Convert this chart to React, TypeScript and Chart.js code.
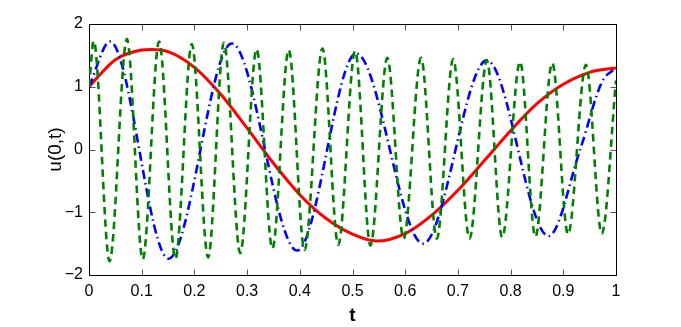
import React, { useEffect, useRef } from "react";
import { Chart, registerables } from "chart.js";

Chart.register(...registerables);

// t-axis tick values and u-axis tick values
const xTickValues = [0, 0.1, 0.2, 0.3, 0.4, 0.5, 0.6, 0.7, 0.8, 0.9, 1];
const yTickValues = [-2, -1, 0, 1, 2];

// red solid curve
const redT = [0, 0.05, 0.1, 0.12, 0.15, 0.2, 0.25, 0.3, 0.35, 0.4, 0.45, 0.5, 0.546, 0.6, 0.65, 0.7, 0.75, 0.8, 0.85, 0.9, 0.95, 1.0];
const redU = [1.0, 1.43, 1.585, 1.595, 1.56, 1.31, 0.88, 0.34, -0.22, -0.72, -1.1, -1.35, -1.46, -1.34, -1.05, -0.65, -0.18, 0.3, 0.73, 1.04, 1.23, 1.3];

// blue dash-dot curve
const blueT = [0, 0.04, 0.151, 0.271, 0.395, 0.507, 0.634, 0.755, 0.872, 0.932, 0.973, 1.0];
const blueU = [1.0, 1.72, -1.74, 1.69, -1.61, 1.53, -1.5, 1.42, -1.38, 0, 1.07, 1.3];

// green dashed curve
const greenT = [0, 0.009, 0.039, 0.072, 0.102, 0.133, 0.164, 0.195, 0.226, 0.256, 0.287, 0.318, 0.348, 0.379, 0.409, 0.443, 0.473, 0.505, 0.534, 0.566, 0.597, 0.63, 0.66, 0.691, 0.722, 0.755, 0.784, 0.818, 0.847, 0.879, 0.909, 0.943, 0.973, 1.0];
const greenU = [1.0, 1.73, -1.78, 1.76, -1.75, 1.72, -1.74, 1.68, -1.72, 1.7, -1.65, 1.6, -1.58, 1.59, -1.6, 1.61, -1.52, 1.57, -1.53, 1.46, -1.42, 1.46, -1.42, 1.44, -1.42, 1.42, -1.4, 1.4, -1.39, 1.38, -1.35, 1.35, -1.34, 1.1];

const toPoints = (ts: number[], us: number[]) => ts.map((t, i) => ({ x: t, y: us[i] }));

const FONT = "'Liberation Sans', Arial, Helvetica, sans-serif";

const framePlugin = {
  id: "matlabFrame",
  beforeDatasetsDraw(chart: any) {
    const { ctx, chartArea: a, scales } = chart;
    const xs = scales.x;
    const ys = scales.y;
    const L = Math.round(a.left) + 0.5;
    const R = Math.round(a.right) + 0.5;
    const T = Math.round(a.top) + 0.5;
    const B = Math.round(a.bottom) + 0.5;
    ctx.save();
    ctx.lineWidth = 1;
    ctx.strokeStyle = "#555";
    ctx.beginPath();
    const len = 6;
    xTickValues.slice(1, -1).forEach((v) => {
      const px = Math.round(xs.getPixelForValue(v)) + 0.5;
      ctx.moveTo(px, B);
      ctx.lineTo(px, B - len);
      ctx.moveTo(px, T);
      ctx.lineTo(px, T + len);
    });
    yTickValues.slice(1, -1).forEach((v) => {
      const py = Math.round(ys.getPixelForValue(v)) + 0.5;
      ctx.moveTo(L, py);
      ctx.lineTo(L + len, py);
      ctx.moveTo(R, py);
      ctx.lineTo(R - len, py);
    });
    ctx.stroke();
    ctx.strokeStyle = "#000";
    ctx.strokeRect(L, T, R - L, B - T);
    ctx.restore();
  },
};

export default function App() {
  const canvasRef = useRef<HTMLCanvasElement | null>(null);

  useEffect(() => {
    if (!canvasRef.current) return;
    const chart = new Chart(canvasRef.current, {
      type: "line",
      data: {
        datasets: [
          {
            label: "red",
            data: toPoints(redT, redU),
            borderColor: "#ff0000",
            borderWidth: 3,
            pointRadius: 0,
            cubicInterpolationMode: "monotone",
            fill: false,
            order: 3,
          },
          {
            label: "blue",
            data: toPoints(blueT, blueU),
            borderColor: "#0000ff",
            borderWidth: 2.6,
            borderDash: [9, 4, 1.5, 4],
            pointRadius: 0,
            cubicInterpolationMode: "monotone",
            fill: false,
            order: 2,
          },
          {
            label: "green",
            data: toPoints(greenT, greenU),
            borderColor: "#008000",
            borderWidth: 2.6,
            borderDash: [7.5, 5],
            pointRadius: 0,
            cubicInterpolationMode: "monotone",
            fill: false,
            order: 1,
          },
        ],
      },
      options: {
        animation: false,
        responsive: true,
        maintainAspectRatio: false,
        events: [],
        layout: { padding: { left: 0, right: 65, top: 24, bottom: 0 } },
        plugins: {
          legend: { display: false },
          tooltip: { enabled: false },
        },
        scales: {
          x: {
            type: "linear",
            min: 0,
            max: 1,
            afterFit: (s: any) => {
              s.height = 52;
            },
            afterBuildTicks: (s: any) => {
              s.ticks = xTickValues.map((v) => ({ value: v }));
            },
            grid: { display: false, drawTicks: false },
            border: { display: false },
            ticks: {
              padding: 7,
              color: "#000",
              font: { family: FONT, size: 16 },
              maxRotation: 0,
              autoSkip: false,
              callback: (v: any) => String(Number(Number(v).toFixed(1))),
            },
            title: {
              display: true,
              text: "t",
              color: "#000",
              font: { family: FONT, size: 19, weight: "bold" },
              padding: { top: 0, bottom: 0 },
            },
          },
          y: {
            type: "linear",
            min: -2,
            max: 2,
            afterFit: (s: any) => {
              s.width = 89;
            },
            afterBuildTicks: (s: any) => {
              s.ticks = yTickValues.map((v) => ({ value: v }));
            },
            grid: { display: false, drawTicks: false },
            border: { display: false },
            ticks: {
              padding: 6,
              color: "#000",
              font: { family: FONT, size: 16 },
              autoSkip: false,
              callback: (v: any) => {
                const n = Number(v);
                return n < 0 ? "\u2212" + String(Math.abs(n)) : String(n);
              },
            },
            title: {
              display: true,
              text: "u(0,t)",
              color: "#000",
              font: { family: FONT, size: 19 },
              padding: { top: 44, bottom: 0 },
            },
          },
        },
      },
      plugins: [framePlugin],
    });
    return () => chart.destroy();
  }, []);

  return (
    <div style={{ position: "absolute", left: 0, top: 0, width: 681, height: 327, background: "#fff" }}>
      <canvas ref={canvasRef} />
    </div>
  );
}
